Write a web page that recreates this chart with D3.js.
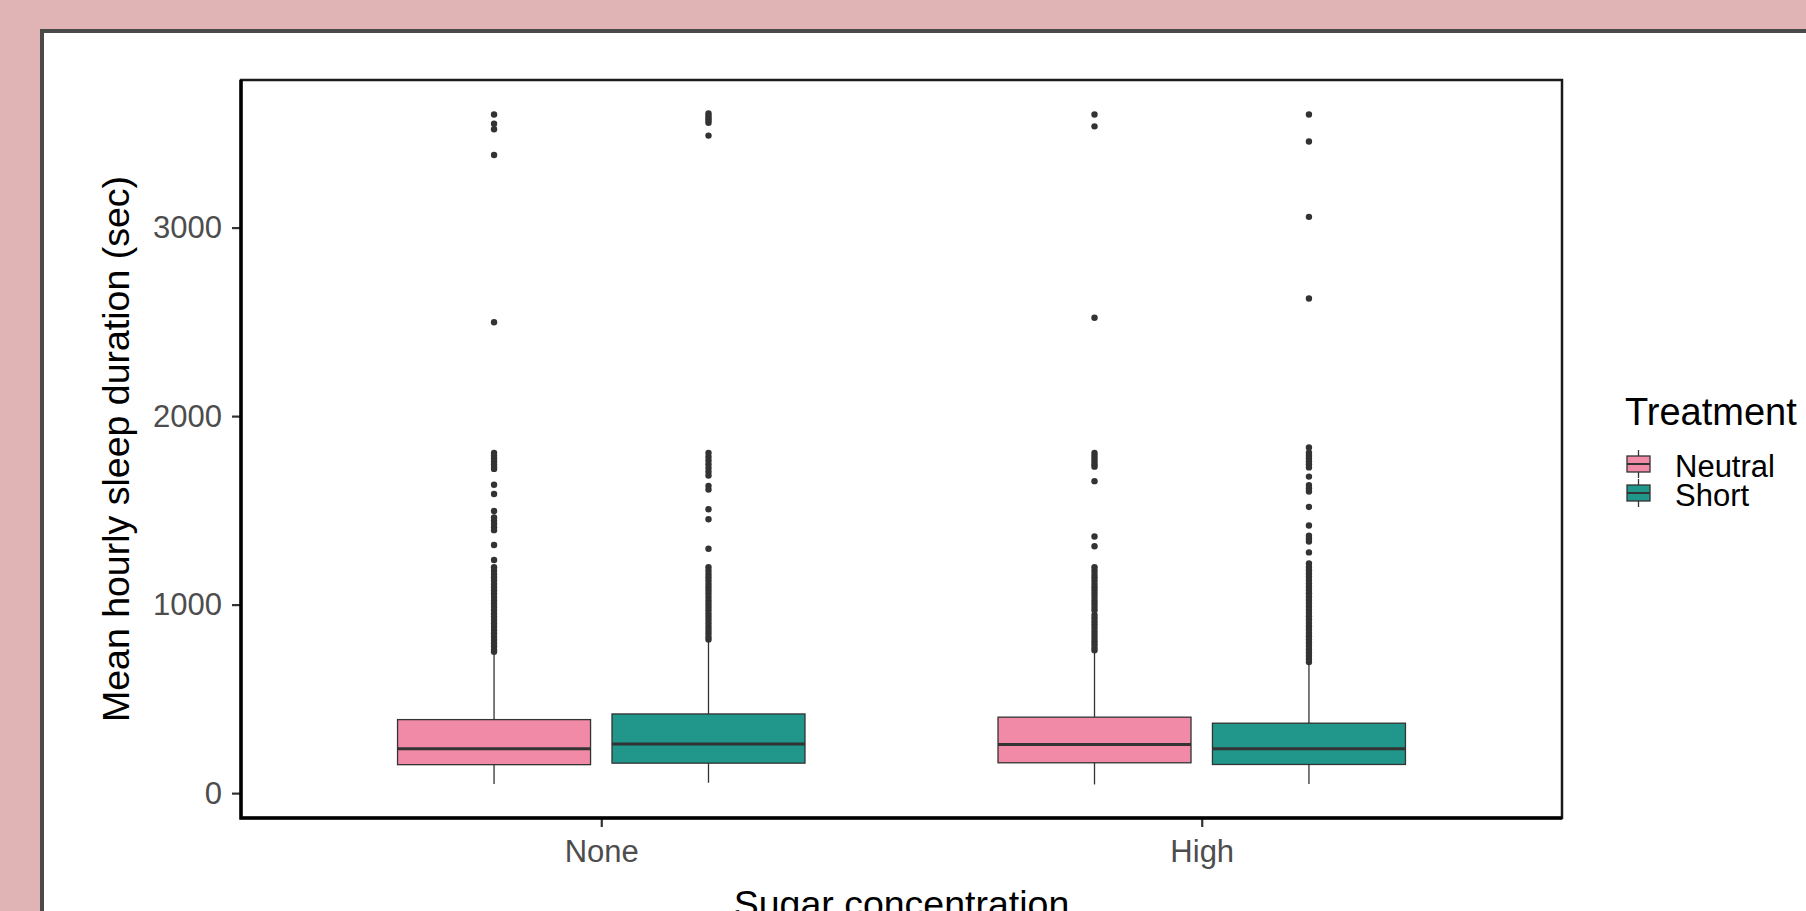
<!DOCTYPE html>
<html lang="en">
<head>
    <meta charset="UTF-8">
    <title>Sleep duration boxplot</title>
    <script src="https://cdn.jsdelivr.net/npm/d3@7"></script>
    <style>
        body { margin: 0; background: #e0b4b4; overflow: hidden; }
        text { font-family: "Liberation Sans", Arial, sans-serif; }
    </style>
</head>
<body>
<div id="my_dataviz"></div>
<script>

    // categories on the x axis and the two treatments
    const categories = ["None", "High"];
    const treatments = ["Neutral", "Short"];
    const yTicks = [0, 1000, 2000, 3000];

    // box statistics, one value per sugar category
    const neutralLow = [49, 46];
    const neutralQ1 = [151, 161];
    const neutralMedian = [236, 258];
    const neutralQ3 = [390, 403];
    const neutralHigh = [745, 750];

    const shortLow = [55, 49];
    const shortQ1 = [159, 152];
    const shortMedian = [260, 236];
    const shortQ3 = [420, 371];
    const shortHigh = [806, 690];

    // outliers
    const noneNeutralOut = [3600, 3551, 3522, 3385, 2498, 1805, 1790, 1775, 1760, 1745, 1730, 1720, 1636, 1587, 1497,
        1462, 1445, 1428, 1410, 1395, 1316, 1237, 1198, 1180, 1162, 1145, 1128, 1110, 1092, 1075, 1058, 1040, 1022,
        1005, 988, 970, 952, 935, 918, 900, 882, 865, 848, 830, 812, 795, 778, 760, 750];
    const noneShortOut = [3605, 3592, 3580, 3568, 3556, 3488, 1805, 1785, 1765, 1745, 1725, 1705, 1685, 1630, 1610,
        1506, 1453, 1296, 1198, 1180, 1162, 1145, 1128, 1110, 1092, 1075, 1058, 1040, 1022, 1005, 988, 970, 952, 935,
        918, 900, 882, 865, 848, 830, 815];
    const highNeutralOut = [3600, 3537, 2522, 1805, 1790, 1775, 1760, 1745, 1732, 1655, 1361, 1310, 1198, 1180, 1162,
        1145, 1128, 1110, 1092, 1075, 1058, 1040, 1022, 1005, 988, 970, 945, 928, 910, 893, 876, 858, 840, 823, 806,
        790, 773, 758];
    const highShortOut = [3600, 3457, 3057, 2624, 1834, 1806, 1790, 1775, 1760, 1745, 1728, 1679, 1634, 1617, 1600,
        1518, 1420, 1365, 1350, 1335, 1277, 1218, 1200, 1182, 1165, 1148, 1130, 1112, 1095, 1078, 1060, 1042, 1025,
        1008, 990, 972, 955, 938, 920, 902, 885, 868, 850, 832, 815, 798, 780, 762, 745, 728, 711, 695];

    const colors = {Neutral: "#f18aa7", Short: "#21968a"};

    // build the box table from the arrays
    const boxes = [];
    categories.forEach((c, i) => {
        boxes.push({cat: c, trt: "Neutral", low: neutralLow[i], q1: neutralQ1[i], med: neutralMedian[i],
            q3: neutralQ3[i], high: neutralHigh[i], out: i === 0 ? noneNeutralOut : highNeutralOut});
        boxes.push({cat: c, trt: "Short", low: shortLow[i], q1: shortQ1[i], med: shortMedian[i],
            q3: shortQ3[i], high: shortHigh[i], out: i === 0 ? noneShortOut : highShortOut});
    });

    const W = 1806, H = 911;
    const panel = {left: 241, right: 1562, top: 80, bottom: 818};

    const svg = d3.select("#my_dataviz")
        .append("svg")
        .attr("width", W)
        .attr("height", H);

    // white card with dark border
    svg.append("rect")
        .attr("x", 42).attr("y", 31)
        .attr("width", 2000).attr("height", 1000)
        .attr("fill", "#fff")
        .attr("stroke", "#4a4a4a")
        .attr("stroke-width", 4);

    // scales
    const allVals = boxes.flatMap(b => [b.low, b.high].concat(b.out));
    const yMin = d3.min(allVals), yMax = d3.max(allVals);
    const pad = (yMax - yMin) * 0.05;
    const y = d3.scaleLinear()
        .domain([yMin - pad, yMax + pad])
        .range([panel.bottom, panel.top]);

    const x = d3.scalePoint()
        .domain(categories)
        .range([panel.left, panel.right])
        .padding(0.6);
    const step = x.step();

    const dodge = d3.scaleBand()
        .domain(treatments)
        .range([-0.375 * step, 0.375 * step])
        .padding(0.1);

    // y axis
    const yAxis = d3.axisLeft(y)
        .tickValues(yTicks)
        .tickFormat(d3.format("d"))
        .tickSize(9)
        .tickPadding(10);
    const gy = svg.append("g")
        .attr("class", "y-axis")
        .attr("transform", "translate(" + panel.left + ",0)")
        .call(yAxis);
    gy.select(".domain").remove();
    gy.selectAll("line").attr("stroke", "#333").attr("stroke-width", 2.2);
    gy.selectAll("text").attr("fill", "#4d4d4d").style("font-size", "31px");

    // x axis
    const xAxis = d3.axisBottom(x)
        .tickSize(9)
        .tickPadding(13);
    const gx = svg.append("g")
        .attr("class", "axis-x")
        .attr("transform", "translate(0," + panel.bottom + ")")
        .call(xAxis);
    gx.select(".domain").remove();
    gx.selectAll("line").attr("stroke", "#333").attr("stroke-width", 2.2);
    gx.selectAll("text").attr("fill", "#4d4d4d").style("font-size", "31px");

    // boxes
    const g = svg.append("g");
    const bw = dodge.bandwidth();
    const cx = d => x(d.cat) + dodge(d.trt) + bw / 2;

    g.selectAll(".whisker")
        .data(boxes)
        .enter()
        .append("line")
        .attr("x1", cx).attr("x2", cx)
        .attr("y1", d => y(d.low)).attr("y2", d => y(d.high))
        .attr("stroke", "#333").attr("stroke-width", 1.3);

    g.selectAll(".box")
        .data(boxes)
        .enter()
        .append("rect")
        .attr("x", d => x(d.cat) + dodge(d.trt))
        .attr("width", bw)
        .attr("y", d => y(d.q3))
        .attr("height", d => y(d.q1) - y(d.q3))
        .attr("fill", d => colors[d.trt])
        .attr("stroke", "#333").attr("stroke-width", 1.3);

    g.selectAll(".median")
        .data(boxes)
        .enter()
        .append("line")
        .attr("x1", d => x(d.cat) + dodge(d.trt))
        .attr("x2", d => x(d.cat) + dodge(d.trt) + bw)
        .attr("y1", d => y(d.med)).attr("y2", d => y(d.med))
        .attr("stroke", "#333").attr("stroke-width", 3);

    // outlier points
    boxes.forEach(b => {
        g.selectAll(null)
            .data(b.out)
            .enter()
            .append("circle")
            .attr("cx", cx(b))
            .attr("cy", v => y(v))
            .attr("r", 3.2)
            .attr("fill", "#333");
    });

    // panel border
    svg.append("rect")
        .attr("x", panel.left).attr("y", panel.top)
        .attr("width", panel.right - panel.left)
        .attr("height", panel.bottom - panel.top)
        .attr("fill", "none")
        .attr("stroke", "#1a1a1a")
        .attr("stroke-width", 2.5);
    svg.append("path")
        .attr("d", "M" + panel.left + "," + panel.top + "V" + panel.bottom + "H" + panel.right)
        .attr("fill", "none")
        .attr("stroke", "#000")
        .attr("stroke-width", 3.5);

    // axis titles
    svg.append("text")
        .attr("transform", "translate(129," + (panel.top + panel.bottom) / 2 + ") rotate(-90)")
        .attr("text-anchor", "middle")
        .style("font-size", "37.5px")
        .attr("fill", "#000")
        .text("Mean hourly sleep duration (sec)");

    svg.append("text")
        .attr("x", (panel.left + panel.right) / 2)
        .attr("y", 917)
        .attr("text-anchor", "middle")
        .style("font-size", "37.5px")
        .attr("fill", "#000")
        .text("Sugar concentration");

    // legend
    const lg = svg.append("g").attr("transform", "translate(1625,0)");
    lg.append("text")
        .attr("x", 0).attr("y", 425)
        .style("font-size", "38px")
        .attr("fill", "#000")
        .text("Treatment");

    const keys = lg.selectAll(".key")
        .data(treatments)
        .enter()
        .append("g")
        .attr("transform", (d, i) => "translate(2," + (450 + i * 29) + ")");
    keys.append("line")
        .attr("x1", 11.5).attr("x2", 11.5)
        .attr("y1", 0).attr("y2", 28)
        .attr("stroke", "#333").attr("stroke-width", 1.3);
    keys.append("rect")
        .attr("x", 0).attr("y", 6)
        .attr("width", 23).attr("height", 16)
        .attr("fill", d => colors[d])
        .attr("stroke", "#333").attr("stroke-width", 1.3);
    keys.append("line")
        .attr("x1", 0).attr("x2", 23)
        .attr("y1", 14).attr("y2", 14)
        .attr("stroke", "#333").attr("stroke-width", 2);
    keys.append("text")
        .attr("x", 48).attr("y", 27)
        .style("font-size", "31px")
        .attr("fill", "#000")
        .text(d => d);

</script>
</body>
</html>
